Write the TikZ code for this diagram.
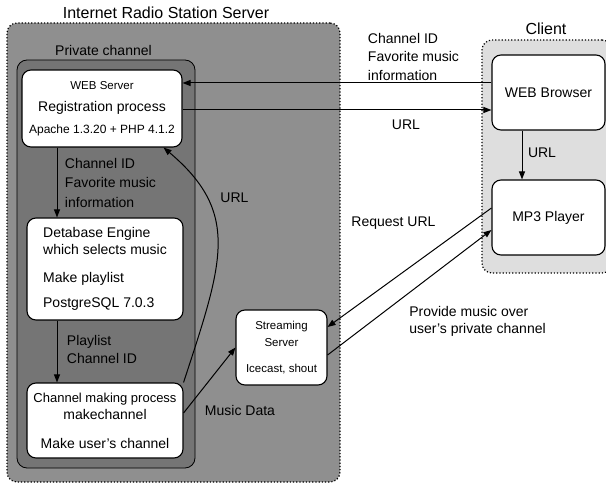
\documentclass[tikz,border=0pt]{standalone}
\usepackage{fontspec}
\setmainfont{Liberation Sans}
\usetikzlibrary{arrows.meta}
\newcommand{\smtxt}{\fontsize{11.5}{15}\selectfont}
\begin{document}
\begin{tikzpicture}[x=1pt,y=-1pt,
  font=\fontsize{14}{17}\selectfont,
  >={Triangle[length=8pt,width=6pt]},
  area/.style={draw,dotted,line width=1.2pt,rounded corners=10pt,inner sep=0pt},
  procbox/.style={draw,fill=white,line width=1.1pt,rounded corners=9pt,inner sep=0pt},
  lbl/.style={align=left,inner sep=0pt},
  flow/.style={->,line width=1pt}]
\useasboundingbox (0,0) rectangle (606,484);
% areas
\node[area,fill=black!44,minimum width=333pt,minimum height=459pt] (srv) at (173.5,252.5) {};
\node[draw,line width=0.8pt,rounded corners=10pt,fill=black!54,minimum width=178pt,minimum height=408pt] (priv) at (106,264) {};
\node[area,fill=black!13,minimum width=130pt,minimum height=233pt] (client) at (547,156.5) {};
\node[font=\fontsize{16}{18}\selectfont] (srvtitle) at (166,13) {Internet Radio Station Server};
\node (privtitle) at (103.5,50) {Private channel};
\node[font=\fontsize{16}{18}\selectfont] (clienttitle) at (546,29) {Client};
% processes
\node[procbox,align=center,minimum width=160pt,minimum height=77pt] (websrv) at (102,108.5)
  {{\smtxt WEB Server}\\[5pt]Registration process\\[5pt]{\fontsize{12}{14}\selectfont Apache 1.3.20 + PHP 4.1.2}};
\node[procbox,align=left,minimum width=156pt,minimum height=102pt] (dbeng) at (105,269)
  {Detabase Engine\\which selects music\\[11pt]Make playlist\\[8pt]PostgreSQL 7.0.3};
\node[procbox,align=center,minimum width=156pt,minimum height=75pt] (chmk) at (105,420.5)
  {{\fontsize{13}{17}\selectfont Channel making process}\\makechannel\\[12pt]Make user's channel};
\node[procbox,align=center,minimum width=91pt,minimum height=75pt] (strm) at (281.5,347.5)
  {\smtxt Streaming\\\smtxt Server\\[9pt]\smtxt Icecast, shout};
\node[procbox,minimum width=113pt,minimum height=75pt] (browser) at (548.5,92.5) {WEB Browser};
\node[procbox,minimum width=113pt,minimum height=75pt] (mp3) at (548.5,217.5) {MP3 Player};
% flows
\draw[flow] ([yshift=9.5pt]browser.west) -- ([yshift=25.5pt]websrv.east);
\draw[flow] ([yshift=-1.5pt]websrv.east) -- ([yshift=-17.5pt]browser.west);
\draw[flow] ([xshift=-26.5pt]browser.south) -- ([xshift=-26.5pt]mp3.north);
\draw[flow] ([xshift=-45pt]websrv.south) -- ([xshift=-48pt]dbeng.north);
\draw[flow] ([xshift=-48pt]dbeng.south) -- ([xshift=-48pt]chmk.north);
\draw[flow] ([yshift=7.5pt]chmk.east) -- (strm.west);
\draw[flow] (chmk.north east) .. controls (223,262) and (241,213) .. ([xshift=-19pt]websrv.south east);
\draw[flow] ([yshift=9.5pt]mp3.west) -- ([yshift=20.5pt]strm.east);
\draw[flow] ([yshift=-7.5pt]strm.east) -- ([yshift=-12.5pt]mp3.west);
% labels
\node[lbl,font=\fontsize{14}{18.5}\selectfont] (lblinfo) at (413.5,56.5) {Channel ID\\Favorite music\\information};
\node[lbl] (lblurla) at (406,125) {URL};
\node[lbl] (lblurlb) at (542,153) {URL};
\node[lbl,font=\fontsize{14}{19.5}\selectfont] (lblinfob) at (110.5,182.5) {Channel ID\\Favorite music\\information};
\node[lbl,font=\fontsize{14}{18}\selectfont] (lblplay) at (102,349) {Playlist\\Channel ID};
\node[lbl] (lblurlc) at (234.5,198) {URL};
\node[lbl] (lblmusic) at (240,410) {Music Data};
\node[lbl] (lblreq) at (393.5,223) {Request URL};
\node[lbl] (lblprov) at (477.5,321.5) {Provide music over\\user's private channel};
\end{tikzpicture}
\end{document}
